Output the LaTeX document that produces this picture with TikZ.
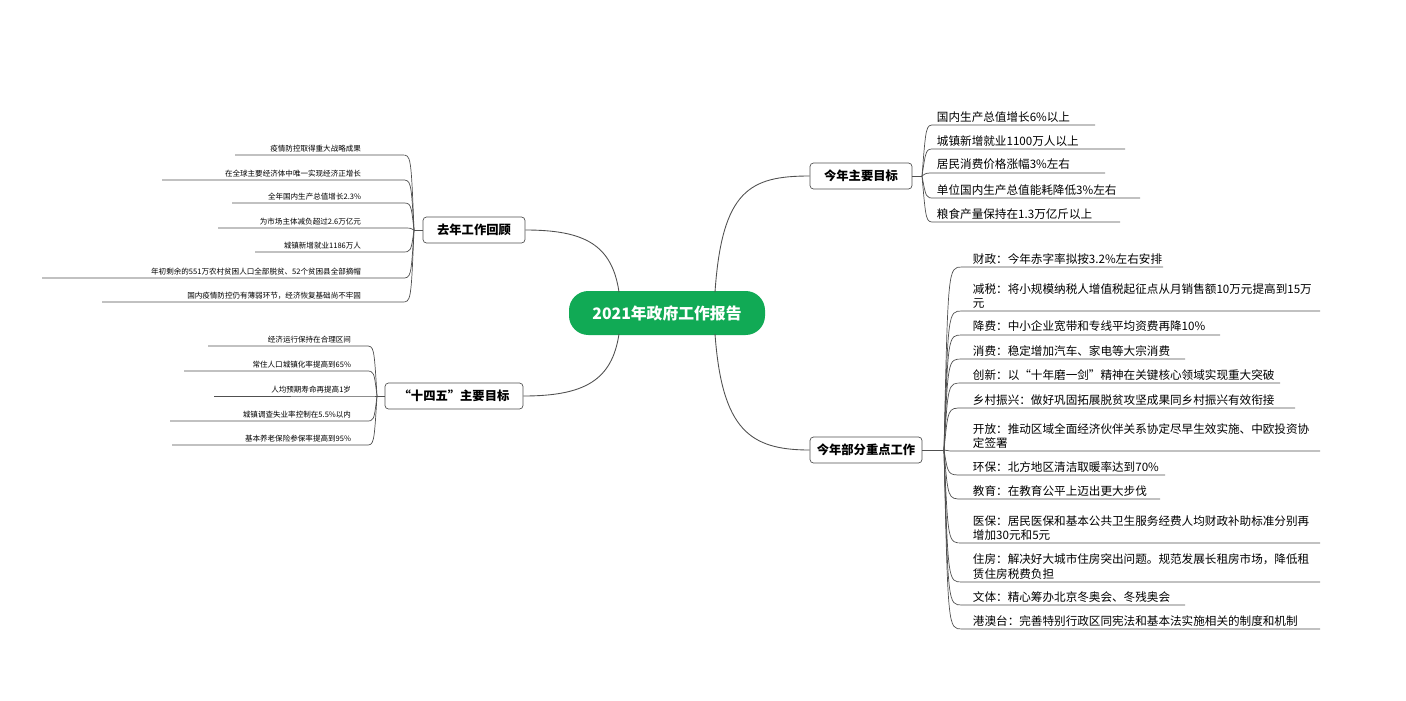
\documentclass[tikz,border=0pt]{standalone}
\usepackage{fontspec}
\setmainfont{Noto Sans CJK SC}
\usetikzlibrary{calc}
\definecolor{mapgreen}{RGB}{17,170,85}
\definecolor{mapline}{RGB}{80,80,80}
\tikzset{
  topic/.style={draw=mapline,rounded corners=2pt,fill=white,inner sep=0pt,minimum height=26*0.02cm,font=\fontsize{7pt}{8pt}\selectfont\bfseries},
  bigleaf/.style={anchor=south west,inner sep=1.5pt,align=left,font=\fontsize{6.6pt}{8pt}\selectfont},
  smallleaf/.style={anchor=south east,inner sep=1.5pt,font=\fontsize{4.3pt}{5pt}\selectfont},
  branch/.style={draw=mapline,line width=0.5pt},
  twig/.style={draw=mapline,line width=0.4pt}
}
\begin{document}
\begin{tikzpicture}[x=0.02cm,y=-0.02cm]
\useasboundingbox (0,0) rectangle (1406,700);
% centre
\node[fill=mapgreen,rounded corners=11pt,minimum width=196*0.02cm,minimum height=44*0.02cm,text=white,font=\fontsize{9pt}{10pt}\selectfont\bfseries] (root) at (667,313) {2021年政府工作报告};
% topics
\node[topic,minimum width=102*0.02cm] (goals) at (861,176) {今年主要目标};
\node[topic,minimum width=112*0.02cm] (tasks) at (866,450) {今年部分重点工作};
\node[topic,minimum width=102*0.02cm] (review) at (474,230) {去年工作回顾};
\node[topic,minimum width=138*0.02cm] (plan) at (454,396) {“十四五”主要目标};
\draw[branch] (715,292) .. controls (722,190) and (750,176) .. (goals.west);
\draw[branch] (715,334) .. controls (722,430) and (750,450) .. (tasks.west);
\draw[branch] (619,292) .. controls (612,245) and (585,230) .. (review.east);
\draw[branch] (619,334) .. controls (612,380) and (585,396) .. (plan.east);
% fan points
\coordinate (fg) at (922,176);
\coordinate (ft) at (944,450);
\coordinate (fr) at (414,230);
\coordinate (fp) at (377,396);
\draw[twig] (goals.east) -- (fg);
\draw[twig] (tasks.east) -- (ft);
\draw[twig] (review.west) -- (fr);
\draw[twig] (plan.west) -- (fp);
% main goals
\foreach \y/\xe/\t [count=\i] in {125/1095/国内生产总值增长6\%以上,149/1125/城镇新增就业1100万人以上,173/1105/居民消费价格涨幅3\%左右,198/1140/单位国内生产总值能耗降低3\%左右,222/1120/粮食产量保持在1.3万亿斤以上}{
  \coordinate (g\i) at (934,\y);
  \draw[twig] (fg) .. controls (926,\y) .. (g\i) -- (\xe,\y);
  \node[bigleaf] (gl\i) at (g\i) {\t};
}
% key tasks
\foreach \y/\xe/\t [count=\i] in {
 267/1163/财政：今年赤字率拟按3.2\%左右安排,
 311/1320/{减税：将小规模纳税人增值税起征点从月销售额10万元提高到15万\\元},
 335/1220/降费：中小企业宽带和专线平均资费再降10\%,
 359/1185/消费：稳定增加汽车、家电等大宗消费,
 383/1280/创新：以“十年磨一剑”精神在关键核心领域实现重大突破,
 408/1295/乡村振兴：做好巩固拓展脱贫攻坚成果同乡村振兴有效衔接,
 451/1320/{开放：推动区域全面经济伙伴关系协定尽早生效实施、中欧投资协\\定签署},
 475/1165/环保：北方地区清洁取暖率达到70\%,
 499/1160/教育：在教育公平上迈出更大步伐,
 543/1320/{医保：居民医保和基本公共卫生服务经费人均财政补助标准分别再\\增加30元和5元},
 582/1320/{住房：解决好大城市住房突出问题。规范发展长租房市场，降低租\\赁住房税费负担},
 605/1185/文体：精心筹办北京冬奥会、冬残奥会,
 629/1320/港澳台：完善特别行政区同宪法和基本法实施相关的制度和机制}{
  \coordinate (t\i) at (962,\y);
  \draw[twig] (ft) .. controls (948,\y) .. (t\i) -- (\xe,\y);
  \node[bigleaf] (tl\i) at ($(t\i)+(8,0)$) {\t};
}
% last year
\foreach \y/\xs/\t [count=\i] in {
 155/235/疫情防控取得重大战略成果,
 180/162/在全球主要经济体中唯一实现经济正增长,
 203/232/全年国内生产总值增长2.3\%,
 228/218/为市场主体减负超过2.6万亿元,
 252/255/城镇新增就业1186万人,
 278/42/年初剩余的551万农村贫困人口全部脱贫、52个贫困县全部摘帽,
 302/102/国内疫情防控仍有薄弱环节，经济恢复基础尚不牢固}{
  \coordinate (r\i) at (402,\y);
  \draw[twig] (fr) .. controls (411,\y) .. (r\i) -- (\xs,\y);
  \node[smallleaf] (rl\i) at ($(r\i)+(-38,0)$) {\t};
}
% 14th plan
\foreach \y/\xs/\t [count=\i] in {
 346/208/经济运行保持在合理区间,
 371/184/常住人口城镇化率提高到65\%,
 396/214/人均预期寿命再提高1岁,
 421/170/城镇调查失业率控制在5.5\%以内,
 445/172/基本养老保险参保率提高到95\%}{
  \coordinate (p\i) at (366,\y);
  \draw[twig] (fp) .. controls (374,\y) .. (p\i) -- (\xs,\y);
  \node[smallleaf] (pl\i) at ($(p\i)+(-12,0)$) {\t};
}
\end{tikzpicture}
\end{document}
